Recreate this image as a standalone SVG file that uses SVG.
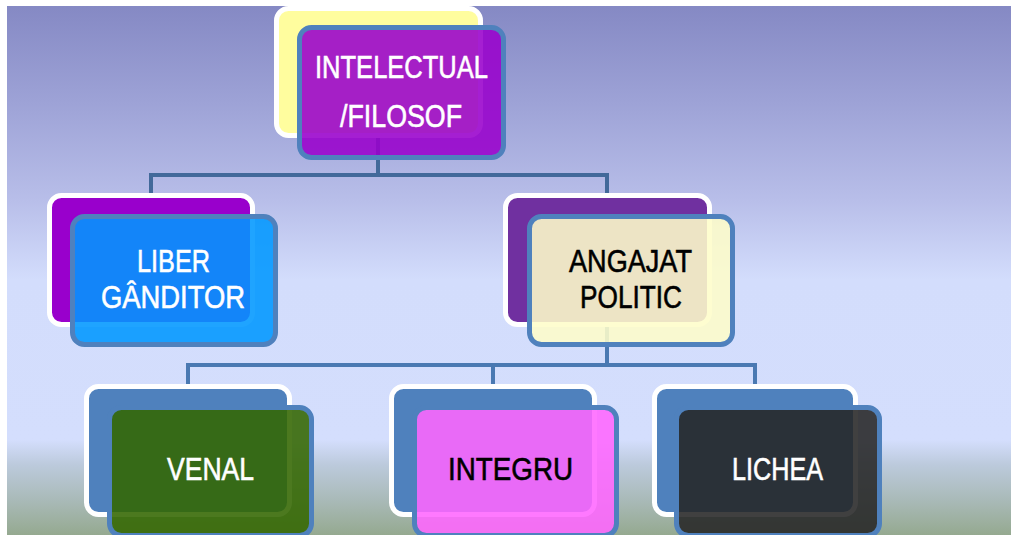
<svg xmlns="http://www.w3.org/2000/svg" width="1011" height="535" viewBox="0 0 1011 535">
<defs>
<linearGradient id="bg" x1="0" y1="6" x2="0" y2="535" gradientUnits="userSpaceOnUse">
<stop offset="0" stop-color="#8589c4"/>
<stop offset="0.18" stop-color="#9da2d6"/>
<stop offset="0.367" stop-color="#b8bee9"/>
<stop offset="0.518" stop-color="#d3ddfc"/>
<stop offset="0.82" stop-color="#d4defd"/>
<stop offset="0.867" stop-color="#bccadc"/>
<stop offset="0.934" stop-color="#a9bab8"/>
<stop offset="1" stop-color="#95a990"/>
</linearGradient>
<style>
.back{stroke:#ffffff;stroke-width:5}
.front{stroke:#4f81bd;stroke-width:5;fill-opacity:0.88}
.t{font-family:"Liberation Sans",Arial,sans-serif;font-size:32px;stroke-width:0.6}
.w{fill:#ffffff;stroke:#ffffff}
.k{fill:#000000;stroke:#000000}
.conn{fill:none;stroke-width:4;stroke-linejoin:miter}
</style>
</defs>
<rect x="0" y="0" width="1011" height="535" fill="#ffffff"/>
<rect x="7" y="6" width="1004" height="529" fill="url(#bg)"/>
<g id="connectors">
<path class="conn" stroke="#42699a" d="M378,138 V175 M151,195 V175 H607 V195"/>
<path class="conn" stroke="#4a79b2" d="M607,327 V365 M188,386 V365 H755 V386 M493,365 V386"/>
</g>
<g id="node-intelectual">
<rect class="back" x="276.5" y="8.5" width="204" height="127" rx="12" fill="#fffd9e"/>
<rect class="front" x="299.5" y="27.5" width="204" height="130" rx="12" fill="#9900cc"/>
<text class="t w" x="315" y="78" textLength="173" lengthAdjust="spacingAndGlyphs">INTELECTUAL</text>
<text class="t w" x="340" y="127" textLength="122" lengthAdjust="spacingAndGlyphs">/FILOSOF</text>
</g>
<g id="node-liber">
<rect class="back" x="49.5" y="195.5" width="203" height="129" rx="12" fill="#9900cc"/>
<rect class="front" x="72.5" y="216.5" width="203" height="128" rx="12" fill="#0097ff"/>
<text class="t w" x="137" y="272" textLength="73" lengthAdjust="spacingAndGlyphs">LIBER</text>
<text class="t w" x="101" y="308" textLength="144" lengthAdjust="spacingAndGlyphs">GÂNDITOR</text>
</g>
<g id="node-angajat">
<rect class="back" x="505.5" y="195.5" width="204" height="129" rx="12" fill="#7030a0"/>
<rect class="front" x="529.5" y="216.5" width="203" height="128" rx="12" fill="#fefdca" fill-opacity="0.9"/>
<text class="t k" x="569" y="272" textLength="123" lengthAdjust="spacingAndGlyphs">ANGAJAT</text>
<text class="t k" x="580" y="308" textLength="102" lengthAdjust="spacingAndGlyphs">POLITIC</text>
</g>
<g id="node-venal">
<rect class="back" x="86.5" y="386.5" width="203" height="128" rx="12" fill="#4f81bd"/>
<rect class="front" x="109.5" y="407.5" width="202" height="128" rx="12" fill="#336600"/>
<text class="t w" x="167" y="480" textLength="87" lengthAdjust="spacingAndGlyphs">VENAL</text>
</g>
<g id="node-integru">
<rect class="back" x="391.5" y="386.5" width="203" height="128" rx="12" fill="#4f81bd"/>
<rect class="front" x="414.5" y="407.5" width="202" height="128" rx="12" fill="#ff66ff"/>
<text class="t k" x="448" y="480" textLength="125" lengthAdjust="spacingAndGlyphs">INTEGRU</text>
</g>
<g id="node-lichea">
<rect class="back" x="654.5" y="386.5" width="201" height="128" rx="12" fill="#4f81bd"/>
<rect class="front" x="676.5" y="407.5" width="203" height="128" rx="12" fill="#252525"/>
<text class="t w" x="732" y="480" textLength="91" lengthAdjust="spacingAndGlyphs">LICHEA</text>
</g>
</svg>
